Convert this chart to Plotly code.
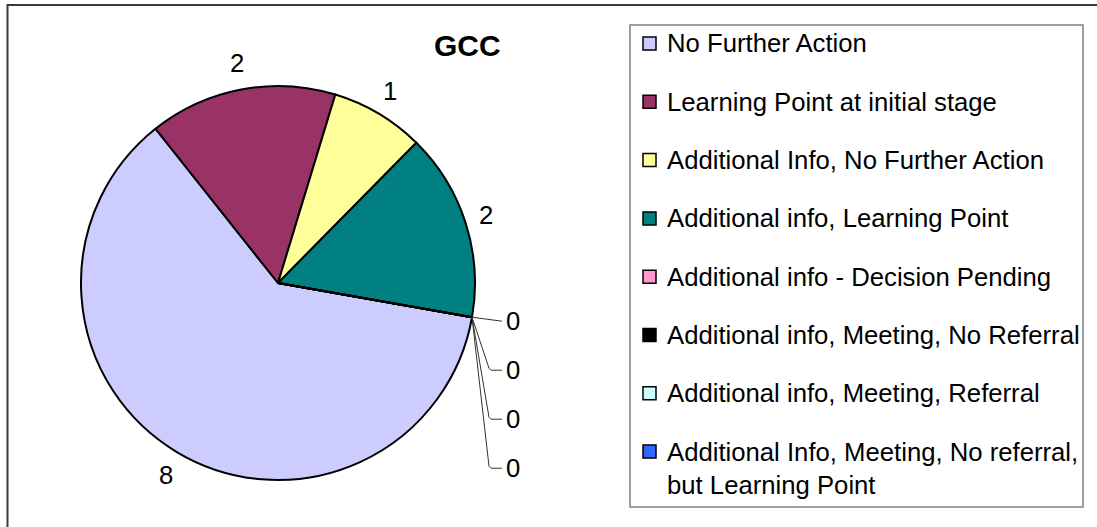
import math
import plotly.graph_objects as go

# ---- data ----
title_text = "GCC"
categories = [
    "No Further Action",
    "Learning Point at initial stage",
    "Additional Info, No Further Action",
    "Additional info, Learning Point",
    "Additional info - Decision Pending",
    "Additional info, Meeting, No Referral",
    "Additional info, Meeting, Referral",
    "Additional Info, Meeting, No referral, but Learning Point",
]
legend_labels = [
    "No Further Action",
    "Learning Point at initial stage",
    "Additional Info, No Further Action",
    "Additional info, Learning Point",
    "Additional info - Decision Pending",
    "Additional info, Meeting, No Referral",
    "Additional info, Meeting, Referral",
    "Additional Info, Meeting, No referral,<br>but Learning Point",
]
values = [8, 2, 1, 2, 0, 0, 0, 0]
colors = ["#CCCCFF", "#993366", "#FFFF99", "#008080",
          "#FF99CC", "#000000", "#CCFFFF", "#3366FF"]

# ---- layout constants (pixels) ----
W, H = 1097, 527
CX, CY, R = 278, 283, 197
ROT = 100
FONT = "Liberation Sans, Arial, sans-serif"
FS = 25.7


def px(x):
    return x / W


def py(y):
    return 1 - y / H


fig = go.Figure()
fig.add_trace(go.Pie(
    labels=categories,
    values=values,
    sort=False,
    direction="clockwise",
    rotation=ROT,
    marker=dict(colors=colors, line=dict(color="#000000", width=2)),
    textinfo="none",
    hoverinfo="label+value",
    showlegend=False,
    domain=dict(x=[px(CX - R), px(CX + R)], y=[py(CY + R), py(CY - R)]),
))

annotations = []
shapes = []

# data labels: label box placed just outside the rim along the slice bisector
total = sum(values)
start = ROT
zero_i = 0
GAP = 14          # gap between rim and nearest edge of label
HW, HH = 7, 13    # half width / half height of a one-digit label
for v in values:
    a0 = start
    a1 = start + 360.0 * v / total
    start = a1
    if v > 0:
        mid = math.radians((a0 + a1) / 2)
        s, c = math.sin(mid), -math.cos(mid)
        lx = CX + (R + GAP) * s + HW * s
        ly = CY + (R + GAP) * c + HH * c
        annotations.append(dict(
            x=px(lx), y=py(ly), xref="paper", yref="paper",
            text=str(v), showarrow=False, xanchor="center", yanchor="middle",
            font=dict(family=FONT, size=FS, color="#000000")))
    else:
        ang = math.radians(a0)
        ex = CX + R * math.sin(ang)
        ey = CY - R * math.cos(ang)
        ty = ey + 4 + 49 * zero_i
        if zero_i == 0:
            path = f"M {px(ex)} {py(ey)} L {px(502)} {py(ty)}"
        else:
            path = (f"M {px(ex)} {py(ey)} L {px(489)} {py(ty - 2)} "
                    f"L {px(491)} {py(ty)} L {px(502)} {py(ty)}")
        shapes.append(dict(type="path", path=path, xref="paper", yref="paper",
                           line=dict(color="#333333", width=1)))
        annotations.append(dict(
            x=px(504), y=py(ty), xref="paper", yref="paper",
            text=str(v), showarrow=False, xanchor="left", yanchor="middle",
            font=dict(family=FONT, size=FS, color="#000000")))
        zero_i += 1

# title
annotations.append(dict(
    x=px(467), y=py(45), xref="paper", yref="paper", text=f"<b>{title_text}</b>",
    showarrow=False, xanchor="center", yanchor="middle",
    font=dict(family=FONT, size=30, color="#000000")))

# outer frame (left and top edges visible)
shapes.append(dict(type="path", xref="paper", yref="paper",
                   path=f"M {px(7.5)} {py(H + 5)} L {px(7.5)} {py(5)} L {px(W + 5)} {py(5)}",
                   line=dict(color="#3a3a3a", width=2)))

# legend box
shapes.append(dict(type="rect", xref="paper", yref="paper",
                   x0=px(630), x1=px(1083), y0=py(25), y1=py(507),
                   line=dict(color="#808080", width=1.5), fillcolor="rgba(0,0,0,0)"))

LY0, LSTEP = 43.5, 58.3
for i, (lab, col) in enumerate(zip(legend_labels, colors)):
    yc = LY0 + LSTEP * i
    shapes.append(dict(type="rect", xref="paper", yref="paper",
                       x0=px(643), x1=px(656), y0=py(yc - 6.5), y1=py(yc + 6.5),
                       line=dict(color="#000000", width=1.5), fillcolor=col))
    nlines = lab.count("<br>") + 1
    annotations.append(dict(
        x=px(666), y=py(yc + 16.5 * (nlines - 1)), xref="paper", yref="paper",
        text=lab, showarrow=False, xanchor="left", yanchor="middle", align="left",
        borderpad=0,
        font=dict(family=FONT, size=FS, color="#000000")))

fig.update_layout(
    width=W, height=H,
    margin=dict(l=0, r=0, t=0, b=0),
    paper_bgcolor="#FFFFFF",
    plot_bgcolor="#FFFFFF",
    showlegend=False,
    annotations=annotations,
    shapes=shapes,
)

fig.write_html(
    "out.html",
    config={"displayModeBar": False},
    post_script=("document.body.style.margin='0';document.body.style.padding='0';"
                 "document.body.style.overflow='hidden';"),
)
